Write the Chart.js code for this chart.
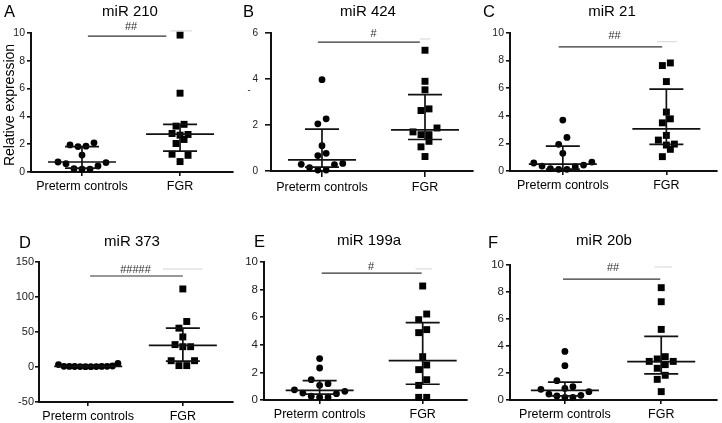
<!DOCTYPE html>
<html><head><meta charset="utf-8">
<script src="https://cdn.jsdelivr.net/npm/chart.js@4.4.0/dist/chart.umd.min.js"></script>
<style>
html,body{margin:0;padding:0;background:#fff;}
#wrap{position:relative;width:722px;height:423px;overflow:hidden;background:#fff;}
canvas{position:absolute;}
</style></head><body><div id="wrap"></div>
<script>
// ---------- data ----------
const groups = ['Preterm controls', 'FGR'];
const titles = ['miR 210', 'miR 424', 'miR 21', 'miR 373', 'miR 199a', 'miR 20b'];
const letters = ['A', 'B', 'C', 'D', 'E', 'F'];
const hashes = ['##', '#', '##', '#####', '#', '##'];
const yAxisTitle = 'Relative expression';

const yMin = [0, 0, 0, -50, 0, 0];
const yMax = [10, 6, 10, 150, 10, 10];
const yStep = [2, 2, 2, 50, 2, 2];

const preA = [0.72, 0.60, 0.24, 0.20, 0.20, 0.43, 0.68, 1.22, 1.83, 1.86, 1.95, 2.10];
const fgrA = [9.85, 5.67, 3.43, 3.30, 2.77, 2.70, 2.65, 2.34, 2.05, 1.28, 1.20, 0.75];
const preB = [3.97, 2.27, 2.05, 1.10, 0.77, 0.67, 0.33, 0.29, 0.28, 0.15, 0.04, 0.04];
const fgrB = [5.25, 3.90, 3.53, 2.70, 2.63, 1.87, 1.70, 1.58, 1.58, 1.29, 1.05, 0.63];
const preC = [3.69, 2.43, 1.93, 1.28, 0.65, 0.58, 0.43, 0.36, 0.31, 0.17, 0.12, 0.12];
const fgrC = [7.83, 7.64, 6.48, 4.27, 3.78, 3.49, 2.58, 2.24, 1.95, 1.88, 1.57, 1.04];
const preD = [3.5, 0.8, 0.6, 0.5, 0.5, 0.6, 0.7, 0.8, 0.9, 1.0, 1.4, 5.0];
const fgrD = [111.5, 65, 55.5, 43, 32, 29, 29, 9, 9, 2, 2];
const preE = [3.00, 2.32, 1.47, 1.18, 1.06, 0.74, 0.63, 0.50, 0.46, 0.27, 0.20, 0.20];
const fgrE = [8.26, 6.23, 5.82, 5.10, 4.88, 3.14, 2.54, 2.20, 1.47, 1.06, 0.19, 0.19];
const preF = [3.60, 2.54, 1.43, 0.99, 0.86, 0.79, 0.62, 0.44, 0.35, 0.30, 0.20, 0.20];
const fgrF = [8.32, 7.28, 5.23, 3.21, 3.04, 2.86, 2.86, 2.62, 2.35, 1.83, 1.53, 0.62];

// median / interquartile range per group [preterm, FGR]
const medA = [0.72, 2.73], q1A = [0.28, 1.50], q3A = [1.83, 3.42];
const medB = [0.48, 1.79], q1B = [0.17, 1.37], q3B = [1.82, 3.32];
const medC = [0.50, 3.05], q1C = [0.13, 1.93], q3C = [1.80, 5.93];
const medD = [1.0, 31], q1D = [0.6, 8.5], q3D = [1.3, 55.5];
const medE = [0.70, 2.85], q1E = [0.42, 1.14], q3E = [1.40, 5.60];
const medF = [0.72, 2.85], q1F = [0.30, 1.93], q3F = [1.33, 4.72];

// significance bar level (data units)
const sigLevel = [9.78, 5.6, 9.0, 130, 9.2, 8.96];

const preSets = [preA, preB, preC, preD, preE, preF];
const fgrSets = [fgrA, fgrB, fgrC, fgrD, fgrE, fgrF];
const meds = [medA, medB, medC, medD, medE, medF];
const q1s = [q1A, q1B, q1C, q1D, q1E, q1F];
const q3s = [q3A, q3B, q3C, q3D, q3E, q3F];

// ---------- layout / style ----------
const FONT = "'Liberation Sans', Arial, sans-serif";
const layout = [
  {left:0,   top:0,   w:240, h:205, area:[31,33,233,172], xr:[-0.52,1.54], tl:4, tp:2, tick:10.5,
   title:[130,12], letter:[4,12], sig:[0.06,0.86], hashDy:-9, faint:[0.9,1.12,10.15], sp:[8,8]},
  {left:240, top:0,   w:240, h:205, area:[31,33,233,171], xr:[-0.495,1.466], tl:6, tp:7, tick:10,
   title:[128,12], letter:[3,12], sig:[-0.04,0.95], hashDy:-8.5, faint:[0.95,1.05,5.74], sp:[8.3,8]},
  {left:480, top:0,   w:242, h:205, area:[30,33,238,171], xr:[-0.51,1.49], tl:4, tp:2, tick:10.5,
   title:[132,12], letter:[3,12], sig:[-0.04,0.96], hashDy:-10.5, faint:[0.91,1.10,9.37], sp:[8.3,8]},
  {left:0,   top:210, w:240, h:213, area:[39,52,233,192], xr:[-0.52,1.53], tl:4, tp:1, tick:11,
   title:[132,32], letter:[19,33], sig:[0.02,1.0], hashDy:-6.5, faint:[0.79,1.21,140], sp:[5.4,7.8]},
  {left:240, top:210, w:240, h:213, area:[24,52,227,190], xr:[-0.54,1.43], tl:4, tp:2, tick:11.5,
   title:[129,31], letter:[14,32], sig:[0.02,0.99], hashDy:-6, faint:[0.93,1.09,9.5], sp:[8.4,8]},
  {left:480, top:210, w:242, h:213, area:[30,55,238,190], xr:[-0.57,1.58], tl:4, tp:2, tick:11.5,
   title:[124,31], letter:[8,33], sig:[-0.02,0.99], hashDy:-11.5, faint:[0.93,1.11,9.85], sp:[8,8]}
];

// Prism-like row scatter: rows of nearby values spread center-out
function swarm(values, yPx, spacing, thresh) {
  const idx = values.map((v, i) => i).sort((a, b) => values[a] - values[b]);
  const off = new Array(values.length).fill(0);
  let i = 0;
  while (i < idx.length) {
    const start = yPx(values[idx[i]]);
    const row = [idx[i]];
    let j = i + 1;
    while (j < idx.length && Math.abs(yPx(values[idx[j]]) - start) < thresh) { row.push(idx[j]); j++; }
    const n = row.length;
    row.forEach((k, r) => {
      let pos;
      if (n % 2 === 1) { const m = Math.ceil(r / 2); pos = r === 0 ? 0 : (r % 2 === 1 ? m : -m); }
      else { const m = Math.floor(r / 2); pos = r % 2 === 0 ? -(m + 0.5) : (m + 0.5); }
      off[k] = pos * spacing;
    });
    i = j;
  }
  return off;
}

function line(ctx, x1, y1, x2, y2) { ctx.beginPath(); ctx.moveTo(x1, y1); ctx.lineTo(x2, y2); ctx.stroke(); }

const decoPlugin = {
  id: 'deco',
  afterDatasetsDraw(chart, args, o) {
    const p = o.p, k = o.k;
    const ctx = chart.ctx, xs = chart.scales.x, ys = chart.scales.y;
    ctx.save();
    ctx.strokeStyle = '#111'; ctx.lineWidth = 1.7;
    [0, 1].forEach(g => {
      const cx = xs.getPixelForValue(g);
      const ym = ys.getPixelForValue(meds[k][g]);
      const y1 = ys.getPixelForValue(q1s[k][g]);
      const y3 = ys.getPixelForValue(q3s[k][g]);
      line(ctx, cx - 34, ym, cx + 34, ym);
      line(ctx, cx - 17, y1, cx + 17, y1);
      line(ctx, cx - 17, y3, cx + 17, y3);
      line(ctx, cx, y1, cx, y3);
    });
    ctx.restore();
  },
  afterDraw(chart, args, o) {
    const p = o.p, k = o.k;
    const ctx = chart.ctx, xs = chart.scales.x, ys = chart.scales.y;
    ctx.save();
    // significance bar
    const sy = ys.getPixelForValue(sigLevel[k]);
    ctx.strokeStyle = '#333'; ctx.lineWidth = 1.2;
    line(ctx, xs.getPixelForValue(p.sig[0]), sy, xs.getPixelForValue(p.sig[1]), sy);
    ctx.strokeStyle = '#d4d4d4'; ctx.lineWidth = 1;
    const fy = ys.getPixelForValue(p.faint[2]);
    line(ctx, xs.getPixelForValue(p.faint[0]), fy, xs.getPixelForValue(p.faint[1]), fy);
    ctx.fillStyle = '#333'; ctx.font = '11px ' + FONT; ctx.textAlign = 'center'; ctx.textBaseline = 'middle';
    ctx.fillText(hashes[k], xs.getPixelForValue(0.5), sy + p.hashDy);
    // title and panel letter
    ctx.fillStyle = '#000';
    ctx.font = '15px ' + FONT; ctx.textAlign = 'center';
    ctx.fillText(titles[k], p.title[0], p.title[1]);
    ctx.font = '16.5px ' + FONT; ctx.textAlign = 'left';
    ctx.fillText(letters[k], p.letter[0], p.letter[1]);
    if (k === 0) {
      ctx.save();
      ctx.translate(10, 105); ctx.rotate(-Math.PI / 2);
      ctx.font = '14px ' + FONT; ctx.textAlign = 'center';
      ctx.fillText(yAxisTitle, 0, 0);
      ctx.restore();
    }
    if (k === 1) {
      ctx.font = '9px ' + FONT; ctx.textAlign = 'center';
      ctx.fillText('-', 9, 91);
    }
    ctx.restore();
  }
};

const wrap = document.getElementById('wrap');
layout.forEach((p, k) => {
  const cv = document.createElement('canvas');
  cv.width = p.w; cv.height = p.h;
  cv.style.left = p.left + 'px'; cv.style.top = p.top + 'px';
  cv.style.width = p.w + 'px'; cv.style.height = p.h + 'px';
  wrap.appendChild(cv);
  const [L, T, R, B] = p.area;
  const sets = [preSets[k], fgrSets[k]];
  const axisCommon = {
    grid: { display: true, drawOnChartArea: false, drawTicks: true, tickLength: p.tl, color: '#111', lineWidth: 1.6 },
    border: { display: true, color: '#111', width: 2 }
  };
  const chart = new Chart(cv.getContext('2d'), {
    type: 'scatter',
    data: {
      datasets: sets.map((vals, g) => ({
        data: vals.map(v => ({ x: g, y: v })),
        pointStyle: g === 0 ? 'circle' : 'rect',
        pointRadius: g === 0 ? 3.4 : 4.9,
        pointHoverRadius: g === 0 ? 3.4 : 4.9,
        backgroundColor: '#000', borderColor: '#000', borderWidth: 0,
        showLine: false, clip: false
      }))
    },
    options: {
      responsive: false, animation: false, devicePixelRatio: 1,
      layout: { padding: { left: 0, top: T, right: p.w - R, bottom: 0 } },
      plugins: { legend: { display: false }, tooltip: { enabled: false }, deco: { p: p, k: k } },
      events: [],
      scales: {
        x: Object.assign({
          type: 'linear', bounds: 'data', min: p.xr[0], max: p.xr[1],
          afterBuildTicks: s => { s.ticks = [{ value: 0 }, { value: 1 }]; },
          afterFit: s => { s.height = p.h - B; },
          ticks: { callback: v => groups[v], font: { size: 12.5, family: FONT }, color: '#000', padding: 3, maxRotation: 0, autoSkip: false }
        }, axisCommon),
        y: Object.assign({
          type: 'linear', min: yMin[k], max: yMax[k],
          afterFit: s => { s.width = L; },
          ticks: { stepSize: yStep[k], font: { size: p.tick, family: FONT }, color: '#222', padding: p.tp }
        }, axisCommon)
      }
    },
    plugins: [decoPlugin]
  });
  // spread points of each group horizontally (computed from the values through the scales)
  const xs = chart.scales.x, ys = chart.scales.y;
  const unit = xs.getPixelForValue(1) - xs.getPixelForValue(0);
  sets.forEach((vals, g) => {
    const off = swarm(vals, v => ys.getPixelForValue(v), p.sp[g], 8);
    chart.data.datasets[g].data = vals.map((v, i) => ({ x: g + off[i] / unit, y: v }));
  });
  chart.update('none');
});
</script>
</body></html>
